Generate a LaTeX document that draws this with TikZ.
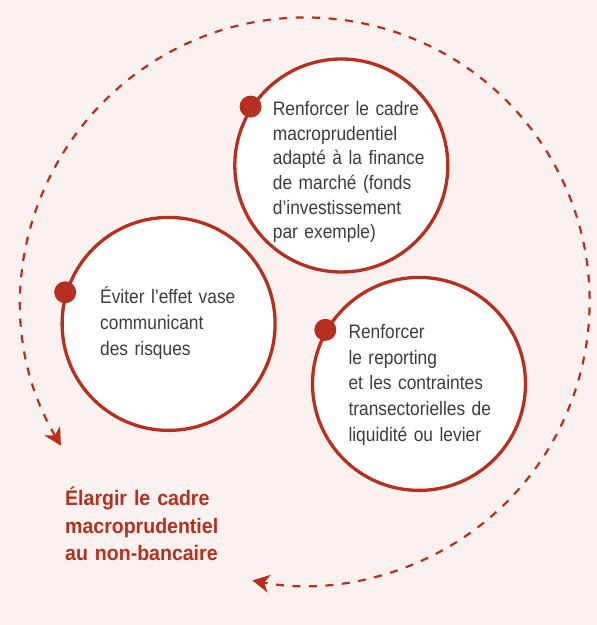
\documentclass[tikz,border=0pt]{standalone}
\usepackage{fontspec}
\setmainfont{Liberation Sans}[FakeStretch=0.89, WordSpace=0.75]
\newfontfamily\headfont{Liberation Sans}[FakeStretch=0.93, WordSpace=0.85]
\usetikzlibrary{calc}
\usetikzlibrary{arrows.meta}
\definecolor{brick}{HTML}{B5301F}
\definecolor{blush}{HTML}{FBF2EF}
\definecolor{ink}{HTML}{3D3D3D}
\tikzset{
  bubble/.style={circle, draw=brick, line width=3.3pt, fill=white,
    minimum size=213pt, inner sep=0pt},
  bullet/.style={circle, fill=brick, minimum size=22pt, inner sep=0pt},
  blurb/.style={anchor=base west, inner sep=0pt, text width=180pt,
    align=left, text=ink, font=\fontsize{19.5}{#1}\selectfont},
  blurb/.default=25.8,
  headline/.style={anchor=base west, inner sep=0pt, text width=200pt,
    align=left, text=brick, font=\headfont\bfseries\fontsize{21}{27.5}\selectfont},
  ring/.style={draw=brick, line width=2.2pt, dash pattern=on 8pt off 8.5pt,
    {Stealth[length=17pt,width=18pt,inset=5pt]}-{Stealth[length=17pt,width=18pt,inset=5pt]}}
}

\begin{document}
\begin{tikzpicture}[x=1pt, y=1pt]
\fill[blush] (0,0) rectangle (597,625);
\useasboundingbox (0,0) rectangle (597,625);

% outer loop
\coordinate (hub) at (305.6,323.5);
\coordinate (tail) at ($(hub)+(210.5:284)$);
\draw[ring] (tail) arc[start angle=210.5, end angle=-100.8, radius=284];

% the three circles
\node[bubble] (market) at (341.3,459.5) {};
\node[bubble] (spill) at (168.6,301.1) {};
\node[bubble] (report) at (419,241.1) {};

\node[bullet] (marketdot) at (market.147.2) {};
\node[bullet] (spilldot) at (spill.163.5) {};
\node[bullet] (reportdot) at (report.150) {};

\node[blurb=24.6] (markettext) at (272.7,509.3)
  {Renforcer le cadre\\macroprudentiel\\adapté à la finance\\de marché (fonds\\d’investissement\\par exemple)};
\node[blurb=26] (spilltext) at (100,321.7)
  {Éviter l’effet vase\\communicant\\des risques};
\node[blurb] (reporttext) at (348.3,286.7)
  {Renforcer\\le reporting\\et les contraintes\\transectorielles de\\liquidité ou levier};

\node[headline] (title) at (65,119.3)
  {Élargir le cadre\\macroprudentiel\\au non-bancaire};
\end{tikzpicture}
\end{document}
